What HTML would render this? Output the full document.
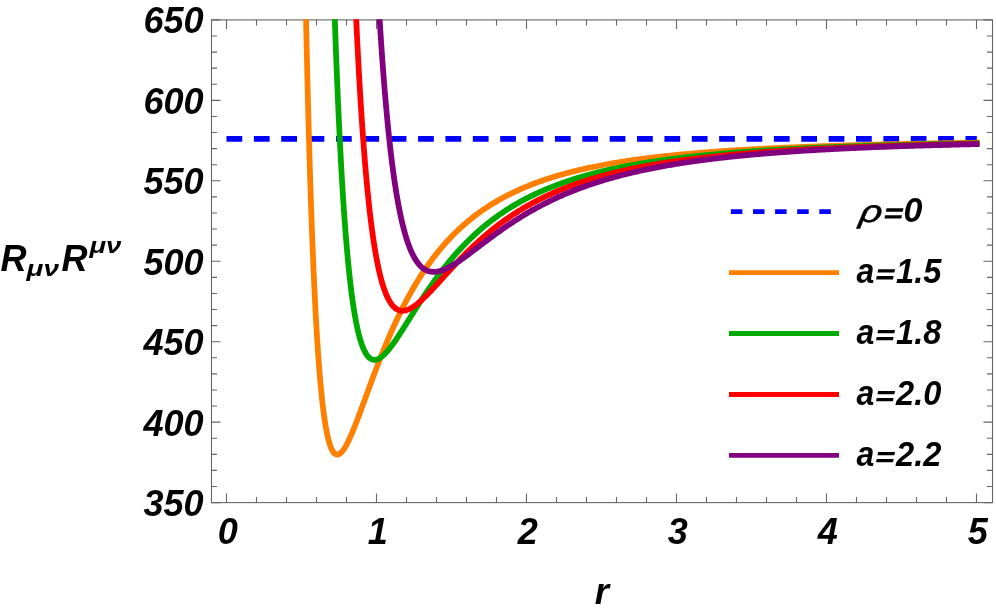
<!DOCTYPE html>
<html><head><meta charset="utf-8"><title>plot</title>
<style>html,body{margin:0;padding:0;background:#fff}svg{display:block}text{font-family:"Liberation Sans",sans-serif;font-weight:bold;font-style:italic;fill:#000}</style>
</head><body>
<svg width="996" height="613" viewBox="0 0 996 613">
<defs><clipPath id="c"><rect x="210.9" y="19.299999999999997" width="782.2" height="483.90000000000003"/></clipPath></defs>
<rect width="996" height="613" fill="#fff"/>
<rect x="211.5" y="19.9" width="781.0" height="482.70000000000005" fill="none" stroke="#666666" stroke-width="1.1"/>
<path d="M226.50 502.6v-9.0M226.50 19.9v9.0M256.50 502.6v-5.5M256.50 19.9v5.5M286.50 502.6v-5.5M286.50 19.9v5.5M316.50 502.6v-5.5M316.50 19.9v5.5M346.50 502.6v-5.5M346.50 19.9v5.5M376.50 502.6v-9.0M376.50 19.9v9.0M406.50 502.6v-5.5M406.50 19.9v5.5M436.50 502.6v-5.5M436.50 19.9v5.5M466.50 502.6v-5.5M466.50 19.9v5.5M496.50 502.6v-5.5M496.50 19.9v5.5M526.50 502.6v-9.0M526.50 19.9v9.0M556.50 502.6v-5.5M556.50 19.9v5.5M586.50 502.6v-5.5M586.50 19.9v5.5M616.50 502.6v-5.5M616.50 19.9v5.5M646.50 502.6v-5.5M646.50 19.9v5.5M676.50 502.6v-9.0M676.50 19.9v9.0M706.50 502.6v-5.5M706.50 19.9v5.5M736.50 502.6v-5.5M736.50 19.9v5.5M766.50 502.6v-5.5M766.50 19.9v5.5M796.50 502.6v-5.5M796.50 19.9v5.5M826.50 502.6v-9.0M826.50 19.9v9.0M856.50 502.6v-5.5M856.50 19.9v5.5M886.50 502.6v-5.5M886.50 19.9v5.5M916.50 502.6v-5.5M916.50 19.9v5.5M946.50 502.6v-5.5M946.50 19.9v5.5M976.50 502.6v-9.0M976.50 19.9v9.0M211.5 502.60h9.0M992.5 502.60h-9.0M211.5 486.51h5.5M992.5 486.51h-5.5M211.5 470.42h5.5M992.5 470.42h-5.5M211.5 454.33h5.5M992.5 454.33h-5.5M211.5 438.24h5.5M992.5 438.24h-5.5M211.5 422.15h9.0M992.5 422.15h-9.0M211.5 406.06h5.5M992.5 406.06h-5.5M211.5 389.97h5.5M992.5 389.97h-5.5M211.5 373.88h5.5M992.5 373.88h-5.5M211.5 357.79h5.5M992.5 357.79h-5.5M211.5 341.70h9.0M992.5 341.70h-9.0M211.5 325.61h5.5M992.5 325.61h-5.5M211.5 309.52h5.5M992.5 309.52h-5.5M211.5 293.43h5.5M992.5 293.43h-5.5M211.5 277.34h5.5M992.5 277.34h-5.5M211.5 261.25h9.0M992.5 261.25h-9.0M211.5 245.16h5.5M992.5 245.16h-5.5M211.5 229.07h5.5M992.5 229.07h-5.5M211.5 212.98h5.5M992.5 212.98h-5.5M211.5 196.89h5.5M992.5 196.89h-5.5M211.5 180.80h9.0M992.5 180.80h-9.0M211.5 164.71h5.5M992.5 164.71h-5.5M211.5 148.62h5.5M992.5 148.62h-5.5M211.5 132.53h5.5M992.5 132.53h-5.5M211.5 116.44h5.5M992.5 116.44h-5.5M211.5 100.35h9.0M992.5 100.35h-9.0M211.5 84.26h5.5M992.5 84.26h-5.5M211.5 68.17h5.5M992.5 68.17h-5.5M211.5 52.08h5.5M992.5 52.08h-5.5M211.5 35.99h5.5M992.5 35.99h-5.5M211.5 19.90h9.0M992.5 19.90h-9.0" stroke="#666666" stroke-width="1.1" fill="none"/>
<g clip-path="url(#c)">
<path d="M226.5 138.81H976.8" stroke="#0000ff" stroke-width="5.8" stroke-dasharray="15.75 11.62" fill="none" id="blue"/>
<path d="M305.79 7.15 305.86 10.72 305.94 14.28 306.01 17.80 306.09 21.30 306.16 24.78 306.24 28.23 306.31 31.66 306.39 35.06 306.46 38.44 306.54 41.80 306.61 45.13 306.69 48.44 306.76 51.72 306.84 54.99 306.91 58.23 306.99 61.44 307.06 64.64 307.14 67.81 307.21 70.96 307.29 74.09 307.36 77.19 307.44 80.27 307.51 83.34 307.59 86.38 307.66 89.40 307.74 92.39 307.81 95.37 307.89 98.32 307.96 101.26 308.04 104.17 308.11 107.07 308.19 109.94 308.26 112.79 308.34 115.62 308.41 118.44 308.49 121.23 308.56 124.00 308.64 126.75 308.71 129.49 308.79 132.20 308.86 134.90 308.94 137.57 309.01 140.23 309.09 142.87 309.16 145.49 309.24 148.09 309.31 150.67 309.39 153.23 309.46 155.78 309.54 158.31 309.61 160.82 309.69 163.31 309.76 165.78 309.84 168.24 309.91 170.68 309.99 173.10 310.06 175.50 310.14 177.89 310.21 180.26 310.29 182.61 310.36 184.95 310.44 187.27 310.52 189.57 310.59 191.86 310.67 194.13 310.74 196.38 310.82 198.62 310.89 200.84 310.97 203.04 311.04 205.23 311.12 207.41 311.19 209.57 311.27 211.71 311.34 213.84 311.42 215.95 311.49 218.04 311.57 220.13 311.64 222.19 311.72 224.24 311.79 226.28 311.87 228.30 311.94 230.31 312.02 232.30 312.09 234.28 312.17 236.24 312.24 238.19 312.32 240.13 312.39 242.05 312.47 243.96 312.54 245.85 312.62 247.73 312.69 249.60 312.77 251.45 312.84 253.29 312.92 255.11 312.99 256.92 313.07 258.72 313.14 260.51 313.22 262.28 313.29 264.04 313.37 265.79 313.44 267.52 313.52 269.24 313.59 270.95 313.67 272.65 313.74 274.33 313.82 276.00 313.89 277.66 313.97 279.30 314.04 280.94 314.12 282.56 314.19 284.17 314.27 285.77 314.34 287.35 314.42 288.93 314.49 290.49 314.57 292.04 314.64 293.58 314.72 295.11 314.79 296.62 314.87 298.13 314.94 299.62 315.02 301.10 315.09 302.57 315.17 304.03 315.24 305.48 315.32 306.92 315.39 308.35 315.47 309.77 315.54 311.17 315.62 312.57 315.69 313.95 315.77 315.33 315.84 316.69 315.92 318.04 315.99 319.39 316.07 320.72 316.14 322.04 316.22 323.35 316.29 324.66 316.37 325.95 316.44 327.23 316.52 328.50 316.59 329.77 316.67 331.02 316.74 332.27 316.82 333.50 316.89 334.72 316.97 335.94 317.04 337.14 317.12 338.34 317.19 339.53 317.27 340.71 317.34 341.87 317.42 343.03 317.49 344.18 317.57 345.33 317.64 346.46 317.72 347.58 317.79 348.70 317.87 349.80 317.94 350.90 318.02 351.99 318.09 353.07 318.17 354.14 318.24 355.21 318.32 356.26 318.39 357.31 318.47 358.34 318.54 359.37 318.62 360.40 318.69 361.41 318.77 362.41 318.84 363.41 318.92 364.40 318.99 365.38 319.07 366.35 319.14 367.32 319.22 368.28 319.29 369.23 319.37 370.17 319.44 371.10 319.52 372.03 319.59 372.95 319.67 373.86 319.74 374.77 319.82 375.66 319.89 376.55 319.97 377.44 320.04 378.31 320.12 379.18 320.19 380.04 320.27 380.89 320.34 381.74 320.42 382.58 320.49 383.41 320.57 384.23 320.64 385.05 320.72 385.86 320.79 386.67 320.87 387.47 321.02 389.04 321.17 390.59 321.32 392.11 321.47 393.61 321.62 395.08 321.77 396.53 321.92 397.95 322.07 399.34 322.22 400.72 322.37 402.06 322.52 403.39 322.67 404.69 322.82 405.96 322.97 407.22 323.12 408.45 323.27 409.66 323.42 410.85 323.57 412.01 323.72 413.16 323.87 414.28 324.02 415.38 324.17 416.46 324.32 417.53 324.47 418.57 324.62 419.59 324.77 420.59 324.92 421.57 325.07 422.53 325.22 423.48 325.37 424.40 325.52 425.31 325.67 426.20 325.82 427.07 325.97 427.92 326.12 428.76 326.27 429.58 326.42 430.38 326.65 431.55 326.87 432.68 327.10 433.78 327.32 434.84 327.55 435.87 327.77 436.86 328.00 437.82 328.22 438.74 328.45 439.63 328.67 440.49 328.90 441.32 329.12 442.12 329.42 443.13 329.72 444.10 330.02 445.01 330.32 445.88 330.62 446.69 330.92 447.46 331.30 448.36 331.67 449.18 332.05 449.94 332.50 450.77 332.95 451.50 333.47 452.25 334.00 452.88 334.60 453.47 335.27 453.98 336.02 454.36 336.85 454.56 337.68 454.55 338.50 454.34 339.25 454.00 340.00 453.53 340.68 452.98 341.28 452.42 341.88 451.78 342.40 451.16 342.93 450.50 343.45 449.78 343.98 449.02 344.43 448.33 344.88 447.61 345.33 446.87 345.78 446.09 346.23 445.29 346.68 444.46 347.05 443.75 347.43 443.02 347.80 442.28 348.18 441.52 348.55 440.75 348.93 439.97 349.30 439.17 349.68 438.36 350.06 437.53 350.43 436.70 350.81 435.85 351.18 434.99 351.56 434.12 351.93 433.24 352.31 432.35 352.68 431.45 353.06 430.55 353.43 429.63 353.81 428.71 354.11 427.97 354.41 427.22 354.71 426.47 355.01 425.71 355.31 424.95 355.61 424.18 355.91 423.41 356.21 422.64 356.51 421.86 356.81 421.09 357.11 420.30 357.41 419.52 357.71 418.73 358.01 417.94 358.31 417.15 358.61 416.35 358.91 415.55 359.21 414.75 359.51 413.95 359.81 413.14 360.11 412.34 360.41 411.53 360.71 410.72 361.01 409.91 361.31 409.10 361.61 408.28 361.91 407.47 362.21 406.65 362.51 405.84 362.81 405.02 363.11 404.20 363.41 403.38 363.71 402.56 364.01 401.74 364.31 400.92 364.61 400.10 364.91 399.28 365.21 398.46 365.51 397.64 365.81 396.82 366.11 396.00 366.41 395.18 366.71 394.36 367.01 393.54 367.31 392.72 367.61 391.90 367.91 391.08 368.21 390.26 368.51 389.44 368.81 388.62 369.11 387.81 369.41 386.99 369.71 386.18 370.01 385.36 370.31 384.55 370.61 383.74 370.91 382.92 371.21 382.11 371.51 381.31 371.81 380.50 372.11 379.69 372.41 378.88 372.71 378.08 373.01 377.28 373.31 376.48 373.61 375.68 373.91 374.88 374.21 374.08 374.51 373.28 374.81 372.49 375.11 371.70 375.41 370.90 375.72 370.11 376.02 369.33 376.32 368.54 376.62 367.76 376.92 366.97 377.22 366.19 377.52 365.41 377.82 364.63 378.12 363.86 378.42 363.09 378.72 362.31 379.02 361.54 379.32 360.77 379.62 360.01 379.92 359.24 380.22 358.48 380.52 357.72 380.82 356.96 381.12 356.21 381.42 355.45 381.72 354.70 382.02 353.95 382.32 353.20 382.62 352.46 382.92 351.71 383.22 350.97 383.59 350.05 383.97 349.13 384.34 348.21 384.72 347.29 385.09 346.38 385.47 345.48 385.84 344.57 386.22 343.67 386.59 342.78 386.97 341.88 387.34 340.99 387.72 340.11 388.09 339.23 388.47 338.35 388.85 337.47 389.22 336.60 389.60 335.73 389.97 334.87 390.35 334.01 390.72 333.15 391.10 332.29 391.47 331.44 391.85 330.60 392.22 329.75 392.60 328.91 392.97 328.08 393.35 327.25 393.72 326.42 394.10 325.59 394.47 324.77 394.85 323.96 395.22 323.14 395.60 322.33 395.97 321.52 396.35 320.72 396.72 319.92 397.10 319.13 397.47 318.33 397.85 317.55 398.22 316.76 398.60 315.98 398.97 315.20 399.35 314.43 399.72 313.66 400.10 312.89 400.47 312.13 400.85 311.37 401.22 310.61 401.60 309.86 401.98 309.11 402.35 308.36 402.73 307.62 403.10 306.88 403.48 306.15 403.85 305.42 404.23 304.69 404.60 303.96 404.98 303.24 405.35 302.52 405.73 301.81 406.10 301.10 406.48 300.39 406.93 299.55 407.38 298.71 407.83 297.87 408.28 297.04 408.73 296.22 409.18 295.40 409.63 294.58 410.08 293.77 410.53 292.97 410.98 292.17 411.43 291.37 411.88 290.58 412.33 289.79 412.78 289.01 413.23 288.23 413.68 287.46 414.13 286.69 414.58 285.93 415.03 285.17 415.48 284.41 415.93 283.66 416.38 282.92 416.83 282.18 417.28 281.44 417.73 280.71 418.18 279.98 418.63 279.26 419.08 278.54 419.53 277.82 419.98 277.11 420.43 276.40 420.88 275.70 421.33 275.00 421.78 274.31 422.23 273.62 422.68 272.93 423.13 272.25 423.58 271.58 424.03 270.90 424.48 270.23 424.93 269.57 425.46 268.80 425.98 268.03 426.51 267.27 427.03 266.52 427.56 265.77 428.09 265.02 428.61 264.28 429.14 263.55 429.66 262.82 430.19 262.10 430.71 261.38 431.24 260.67 431.76 259.96 432.29 259.26 432.81 258.56 433.34 257.86 433.86 257.18 434.39 256.49 434.91 255.81 435.44 255.14 435.96 254.47 436.49 253.81 437.01 253.15 437.54 252.49 438.06 251.84 438.59 251.19 439.11 250.55 439.64 249.91 440.16 249.28 440.69 248.65 441.22 248.03 441.74 247.41 442.27 246.79 442.79 246.18 443.32 245.58 443.92 244.89 444.52 244.21 445.12 243.53 445.72 242.86 446.32 242.19 446.92 241.53 447.52 240.87 448.12 240.22 448.72 239.58 449.32 238.94 449.92 238.30 450.52 237.67 451.12 237.04 451.72 236.42 452.32 235.81 452.92 235.20 453.52 234.59 454.12 233.99 454.72 233.39 455.32 232.80 455.92 232.22 456.52 231.63 457.12 231.05 457.72 230.48 458.32 229.91 458.92 229.35 459.52 228.79 460.12 228.23 460.72 227.68 461.32 227.13 461.92 226.59 462.52 226.05 463.12 225.52 463.72 224.99 464.40 224.39 465.07 223.81 465.75 223.23 466.42 222.65 467.78 221.51 469.06 220.45 470.33 219.41 471.61 218.38 472.89 217.37 474.17 216.38 475.45 215.40 476.73 214.44 478.00 213.50 479.28 212.57 480.56 211.65 481.84 210.75 483.12 209.86 484.39 208.99 485.67 208.13 486.95 207.28 488.23 206.45 489.51 205.63 490.79 204.82 492.06 204.03 493.34 203.25 494.62 202.48 495.90 201.72 497.18 200.97 498.45 200.24 499.73 199.51 501.01 198.80 502.29 198.10 503.57 197.40 504.85 196.72 506.12 196.05 507.40 195.39 508.68 194.74 509.96 194.10 511.24 193.46 512.52 192.84 513.79 192.23 515.07 191.62 516.35 191.03 517.63 190.44 518.91 189.86 520.18 189.29 521.46 188.73 522.74 188.18 524.02 187.63 525.30 187.09 526.58 186.56 527.85 186.04 529.13 185.52 530.41 185.01 531.69 184.51 532.97 184.02 534.24 183.53 535.52 183.05 536.80 182.58 538.08 182.11 539.36 181.65 540.64 181.20 541.91 180.75 543.19 180.31 544.47 179.87 545.75 179.45 547.03 179.02 548.30 178.60 549.58 178.19 550.86 177.78 552.14 177.38 553.42 176.99 554.70 176.60 555.97 176.21 557.25 175.83 558.53 175.46 559.81 175.09 561.09 174.72 562.36 174.36 563.64 174.01 564.92 173.65 566.20 173.31 567.48 172.97 568.76 172.63 570.03 172.30 571.31 171.97 572.59 171.64 573.87 171.32 575.15 171.01 576.42 170.69 577.70 170.39 578.98 170.08 580.26 169.78 581.54 169.48 582.82 169.19 584.09 168.90 585.37 168.62 586.65 168.33 587.93 168.05 589.21 167.78 590.48 167.51 591.76 167.24 593.04 166.97 594.32 166.71 595.60 166.45 596.88 166.20 598.15 165.95 599.43 165.70 600.71 165.45 601.99 165.21 603.27 164.97 604.55 164.73 605.82 164.49 607.10 164.26 608.38 164.03 609.66 163.81 610.94 163.58 612.21 163.36 613.49 163.14 614.77 162.93 616.05 162.71 617.33 162.50 618.61 162.29 619.88 162.09 621.16 161.88 622.44 161.68 623.72 161.48 625.00 161.29 626.27 161.09 627.55 160.90 628.83 160.71 630.11 160.52 631.39 160.34 632.67 160.15 633.94 159.97 635.22 159.79 636.50 159.61 637.78 159.44 639.06 159.27 640.33 159.09 641.61 158.92 642.89 158.76 644.17 158.59 645.45 158.43 646.73 158.26 648.00 158.10 649.28 157.94 650.56 157.79 651.84 157.63 653.12 157.48 654.39 157.33 655.67 157.17 656.95 157.03 658.23 156.88 659.51 156.73 660.79 156.59 662.06 156.45 663.34 156.31 664.62 156.17 665.90 156.03 667.18 155.89 668.45 155.76 669.73 155.62 671.01 155.49 672.29 155.36 673.57 155.23 674.85 155.10 676.12 154.97 677.40 154.85 678.68 154.72 679.96 154.60 681.24 154.48 682.52 154.36 683.79 154.24 685.07 154.12 686.35 154.00 687.63 153.89 688.91 153.77 690.18 153.66 691.46 153.55 692.74 153.44 694.02 153.33 695.30 153.22 696.58 153.11 697.85 153.00 699.13 152.90 700.41 152.79 701.69 152.69 702.97 152.59 704.24 152.49 705.52 152.39 706.80 152.29 708.08 152.19 709.36 152.09 710.64 151.99 711.91 151.90 713.19 151.80 714.47 151.71 715.75 151.62 717.03 151.52 718.30 151.43 719.58 151.34 720.86 151.25 722.14 151.16 723.42 151.08 724.70 150.99 725.97 150.90 727.25 150.82 728.53 150.73 729.81 150.65 731.09 150.57 732.36 150.48 733.64 150.40 734.92 150.32 736.20 150.24 737.48 150.16 738.76 150.09 740.03 150.01 741.31 149.93 742.59 149.85 743.87 149.78 745.15 149.70 746.42 149.63 747.70 149.56 748.98 149.48 750.26 149.41 751.54 149.34 752.82 149.27 754.09 149.20 755.37 149.13 756.65 149.06 757.93 148.99 759.21 148.92 760.48 148.86 761.76 148.79 763.04 148.72 764.32 148.66 765.60 148.59 766.88 148.53 768.15 148.47 769.43 148.40 770.71 148.34 771.99 148.28 773.27 148.22 774.55 148.16 775.82 148.10 777.10 148.04 778.38 147.98 779.66 147.92 780.94 147.86 782.21 147.80 783.49 147.74 784.77 147.69 786.05 147.63 787.33 147.57 788.61 147.52 789.88 147.46 791.16 147.41 792.44 147.36 793.72 147.30 795.00 147.25 796.27 147.20 797.55 147.14 798.83 147.09 800.11 147.04 801.39 146.99 802.67 146.94 803.94 146.89 805.22 146.84 806.50 146.79 807.78 146.74 809.06 146.69 810.33 146.65 811.61 146.60 812.89 146.55 814.17 146.50 815.45 146.46 816.73 146.41 818.00 146.37 819.28 146.32 820.56 146.28 821.84 146.23 823.12 146.19 824.39 146.14 825.67 146.10 826.95 146.06 828.23 146.01 829.51 145.97 830.79 145.93 832.06 145.89 833.34 145.84 834.62 145.80 835.90 145.76 837.18 145.72 838.45 145.68 839.73 145.64 841.01 145.60 842.29 145.56 843.57 145.52 844.85 145.49 846.12 145.45 847.40 145.41 848.68 145.37 849.96 145.33 851.24 145.30 852.52 145.26 853.79 145.22 855.07 145.19 856.35 145.15 857.63 145.12 858.91 145.08 860.18 145.04 861.46 145.01 862.74 144.97 864.02 144.94 865.30 144.91 866.58 144.87 867.85 144.84 869.13 144.81 870.41 144.77 871.69 144.74 872.97 144.71 874.24 144.67 875.52 144.64 876.80 144.61 878.08 144.58 879.36 144.55 880.64 144.52 881.91 144.48 883.19 144.45 884.47 144.42 885.75 144.39 887.03 144.36 888.30 144.33 889.58 144.30 890.86 144.27 892.14 144.24 893.42 144.22 894.70 144.19 895.97 144.16 897.25 144.13 898.53 144.10 899.81 144.07 901.09 144.05 902.36 144.02 903.64 143.99 904.92 143.96 906.20 143.94 907.48 143.91 908.76 143.88 910.03 143.86 911.31 143.83 912.59 143.80 913.87 143.78 915.15 143.75 916.42 143.73 917.70 143.70 918.98 143.68 920.26 143.65 921.54 143.63 922.82 143.60 924.09 143.58 925.37 143.55 926.65 143.53 927.93 143.51 929.21 143.48 930.48 143.46 931.76 143.44 933.04 143.41 934.32 143.39 935.60 143.37 936.88 143.34 938.15 143.32 939.43 143.30 940.71 143.28 941.99 143.25 943.27 143.23 944.55 143.21 945.82 143.19 947.10 143.17 948.38 143.14 949.66 143.12 950.94 143.10 952.21 143.08 953.49 143.06 954.77 143.04 956.05 143.02 957.33 143.00 958.61 142.98 959.88 142.96 961.16 142.94 962.44 142.92 963.72 142.90 965.00 142.88 966.27 142.86 967.55 142.84 968.83 142.82 970.11 142.80 971.39 142.78 972.67 142.76 973.94 142.75 975.22 142.73 976.50 142.71 976.50 142.71" stroke="#ff7f00" stroke-width="5.75" fill="none" stroke-linejoin="round" stroke-linecap="square"/>
<path d="M334.37 6.57 334.45 8.81 334.52 11.03 334.60 13.24 334.67 15.44 334.75 17.63 334.82 19.80 334.90 21.96 334.97 24.11 335.05 26.25 335.12 28.38 335.20 30.49 335.27 32.59 335.35 34.68 335.42 36.76 335.50 38.83 335.57 40.88 335.65 42.93 335.72 44.96 335.80 46.98 335.87 48.99 335.95 50.99 336.02 52.98 336.10 54.96 336.17 56.92 336.25 58.88 336.32 60.82 336.40 62.75 336.47 64.68 336.55 66.59 336.63 68.49 336.70 70.38 336.78 72.26 336.85 74.13 336.93 75.99 337.00 77.83 337.08 79.67 337.15 81.50 337.23 83.32 337.30 85.12 337.38 86.92 337.45 88.71 337.53 90.48 337.60 92.25 337.68 94.01 337.75 95.75 337.83 97.49 337.90 99.22 337.98 100.94 338.05 102.65 338.13 104.34 338.20 106.03 338.28 107.71 338.35 109.38 338.43 111.04 338.50 112.69 338.58 114.34 338.65 115.97 338.73 117.59 338.80 119.21 338.88 120.81 338.95 122.41 339.03 124.00 339.10 125.57 339.18 127.14 339.25 128.70 339.33 130.26 339.40 131.80 339.48 133.33 339.55 134.86 339.63 136.37 339.70 137.88 339.78 139.38 339.85 140.87 339.93 142.36 340.00 143.83 340.08 145.30 340.15 146.75 340.23 148.20 340.30 149.64 340.38 151.08 340.45 152.50 340.53 153.92 340.60 155.33 340.68 156.73 340.75 158.12 340.83 159.50 340.90 160.88 340.98 162.25 341.05 163.61 341.13 164.96 341.20 166.31 341.28 167.65 341.35 168.98 341.43 170.30 341.50 171.62 341.58 172.92 341.65 174.22 341.73 175.51 341.80 176.80 341.88 178.08 341.95 179.35 342.03 180.61 342.10 181.87 342.18 183.12 342.25 184.36 342.33 185.59 342.40 186.82 342.48 188.04 342.55 189.25 342.63 190.46 342.70 191.66 342.78 192.85 342.85 194.03 342.93 195.21 343.00 196.38 343.08 197.55 343.15 198.71 343.23 199.86 343.30 201.00 343.38 202.14 343.45 203.27 343.53 204.40 343.60 205.51 343.68 206.63 343.75 207.73 343.83 208.83 343.90 209.92 343.98 211.01 344.05 212.09 344.13 213.16 344.20 214.23 344.28 215.29 344.35 216.34 344.43 217.39 344.50 218.44 344.58 219.47 344.65 220.50 344.73 221.53 344.80 222.54 344.88 223.56 344.95 224.56 345.03 225.56 345.10 226.56 345.18 227.55 345.25 228.53 345.33 229.50 345.40 230.48 345.48 231.44 345.55 232.40 345.63 233.35 345.70 234.30 345.78 235.25 345.85 236.18 345.93 237.11 346.00 238.04 346.08 238.96 346.15 239.88 346.23 240.78 346.30 241.69 346.38 242.59 346.45 243.48 346.53 244.37 346.60 245.25 346.68 246.13 346.75 247.00 346.83 247.87 346.90 248.73 346.98 249.58 347.05 250.44 347.13 251.28 347.20 252.12 347.28 252.96 347.35 253.79 347.43 254.62 347.50 255.44 347.58 256.25 347.65 257.06 347.73 257.87 347.80 258.67 347.95 260.26 348.10 261.83 348.25 263.38 348.40 264.91 348.55 266.42 348.70 267.91 348.85 269.39 349.00 270.84 349.15 272.28 349.30 273.70 349.45 275.11 349.61 276.49 349.76 277.86 349.91 279.21 350.06 280.55 350.21 281.87 350.36 283.17 350.51 284.45 350.66 285.72 350.81 286.97 350.96 288.21 351.11 289.43 351.26 290.64 351.41 291.83 351.56 293.00 351.71 294.16 351.86 295.31 352.01 296.44 352.16 297.56 352.31 298.66 352.46 299.74 352.61 300.82 352.76 301.88 352.91 302.92 353.06 303.95 353.21 304.97 353.36 305.97 353.51 306.96 353.66 307.94 353.81 308.91 353.96 309.86 354.11 310.80 354.26 311.72 354.41 312.63 354.56 313.54 354.71 314.42 354.86 315.30 355.01 316.16 355.16 317.02 355.31 317.86 355.46 318.69 355.61 319.50 355.76 320.31 355.91 321.10 356.13 322.27 356.36 323.42 356.58 324.54 356.81 325.64 357.03 326.71 357.26 327.76 357.48 328.79 357.71 329.79 357.93 330.78 358.16 331.73 358.38 332.67 358.61 333.59 358.83 334.49 359.06 335.36 359.28 336.21 359.51 337.05 359.73 337.86 359.96 338.66 360.18 339.43 360.48 340.44 360.78 341.41 361.08 342.35 361.38 343.26 361.68 344.14 361.98 344.98 362.28 345.80 362.59 346.59 362.89 347.35 363.26 348.26 363.64 349.12 364.01 349.95 364.39 350.73 364.76 351.48 365.14 352.19 365.59 352.99 366.04 353.73 366.49 354.43 367.01 355.18 367.54 355.86 368.06 356.48 368.66 357.12 369.26 357.68 369.94 358.23 370.61 358.69 371.36 359.10 372.11 359.41 372.94 359.65 373.76 359.78 374.59 359.82 375.41 359.75 376.24 359.60 377.07 359.37 377.82 359.09 378.57 358.75 379.32 358.35 380.07 357.89 380.74 357.44 381.42 356.94 382.09 356.41 382.77 355.84 383.37 355.31 383.97 354.75 384.57 354.16 385.17 353.55 385.77 352.92 386.37 352.27 386.97 351.60 387.49 350.99 388.02 350.37 388.55 349.74 389.07 349.10 389.60 348.44 390.12 347.77 390.65 347.09 391.17 346.40 391.70 345.70 392.22 344.99 392.75 344.27 393.27 343.54 393.80 342.81 394.32 342.06 394.85 341.31 395.37 340.55 395.90 339.79 396.42 339.01 396.87 338.35 397.32 337.68 397.77 337.00 398.22 336.33 398.67 335.64 399.12 334.96 399.57 334.27 400.02 333.58 400.47 332.89 400.92 332.19 401.37 331.49 401.83 330.79 402.28 330.09 402.73 329.39 403.18 328.68 403.63 327.97 404.08 327.26 404.53 326.55 404.98 325.84 405.43 325.13 405.88 324.41 406.33 323.70 406.78 322.98 407.23 322.27 407.68 321.55 408.13 320.83 408.58 320.12 409.03 319.40 409.48 318.68 409.93 317.97 410.38 317.25 410.83 316.53 411.28 315.82 411.73 315.10 412.18 314.39 412.63 313.67 413.08 312.96 413.53 312.25 413.98 311.53 414.43 310.82 414.88 310.11 415.33 309.40 415.78 308.69 416.23 307.99 416.68 307.28 417.13 306.58 417.58 305.87 418.03 305.17 418.48 304.47 418.93 303.77 419.38 303.07 419.83 302.38 420.28 301.68 420.73 300.99 421.18 300.30 421.63 299.61 422.08 298.92 422.53 298.23 422.98 297.55 423.43 296.87 423.88 296.19 424.33 295.51 424.78 294.83 425.23 294.16 425.68 293.49 426.13 292.82 426.58 292.15 427.03 291.48 427.48 290.82 427.94 290.16 428.46 289.39 428.99 288.62 429.51 287.86 430.04 287.10 430.56 286.34 431.09 285.59 431.61 284.84 432.14 284.09 432.66 283.35 433.19 282.61 433.71 281.87 434.24 281.14 434.76 280.41 435.29 279.68 435.81 278.95 436.34 278.23 436.86 277.52 437.39 276.80 437.91 276.09 438.44 275.38 438.96 274.68 439.49 273.98 440.01 273.28 440.54 272.59 441.07 271.90 441.59 271.21 442.12 270.53 442.64 269.85 443.17 269.17 443.69 268.50 444.22 267.83 444.74 267.16 445.27 266.50 445.79 265.84 446.32 265.18 446.84 264.53 447.37 263.88 447.89 263.23 448.42 262.59 448.94 261.95 449.47 261.31 449.99 260.68 450.52 260.05 451.04 259.43 451.57 258.81 452.09 258.19 452.62 257.57 453.14 256.96 453.67 256.35 454.20 255.74 454.80 255.06 455.40 254.37 456.00 253.69 456.60 253.02 457.20 252.35 457.80 251.68 458.40 251.02 459.00 250.36 459.60 249.71 460.20 249.06 460.80 248.41 461.40 247.77 462.00 247.14 462.60 246.50 463.20 245.87 463.80 245.25 464.40 244.63 465.00 244.01 465.60 243.40 466.20 242.79 467.78 241.21 469.06 239.95 470.33 238.71 471.61 237.48 472.89 236.28 474.17 235.08 475.45 233.91 476.73 232.75 478.00 231.61 479.28 230.49 480.56 229.38 481.84 228.28 483.12 227.21 484.39 226.14 485.67 225.10 486.95 224.06 488.23 223.05 489.51 222.04 490.79 221.05 492.06 220.08 493.34 219.12 494.62 218.17 495.90 217.24 497.18 216.32 498.45 215.41 499.73 214.51 501.01 213.63 502.29 212.76 503.57 211.90 504.85 211.06 506.12 210.23 507.40 209.40 508.68 208.59 509.96 207.80 511.24 207.01 512.52 206.23 513.79 205.47 515.07 204.71 516.35 203.97 517.63 203.23 518.91 202.51 520.18 201.80 521.46 201.09 522.74 200.40 524.02 199.72 525.30 199.04 526.58 198.38 527.85 197.72 529.13 197.07 530.41 196.43 531.69 195.80 532.97 195.18 534.24 194.57 535.52 193.97 536.80 193.37 538.08 192.78 539.36 192.20 540.64 191.63 541.91 191.07 543.19 190.51 544.47 189.96 545.75 189.42 547.03 188.88 548.30 188.36 549.58 187.83 550.86 187.32 552.14 186.81 553.42 186.31 554.70 185.82 555.97 185.33 557.25 184.85 558.53 184.38 559.81 183.91 561.09 183.45 562.36 182.99 563.64 182.54 564.92 182.10 566.20 181.66 567.48 181.22 568.76 180.80 570.03 180.38 571.31 179.96 572.59 179.55 573.87 179.14 575.15 178.74 576.42 178.35 577.70 177.95 578.98 177.57 580.26 177.19 581.54 176.81 582.82 176.44 584.09 176.07 585.37 175.71 586.65 175.35 587.93 175.00 589.21 174.65 590.48 174.31 591.76 173.97 593.04 173.63 594.32 173.30 595.60 172.97 596.88 172.65 598.15 172.33 599.43 172.01 600.71 171.70 601.99 171.39 603.27 171.08 604.55 170.78 605.82 170.49 607.10 170.19 608.38 169.90 609.66 169.61 610.94 169.33 612.21 169.05 613.49 168.77 614.77 168.50 616.05 168.23 617.33 167.96 618.61 167.70 619.88 167.44 621.16 167.18 622.44 166.93 623.72 166.67 625.00 166.42 626.27 166.18 627.55 165.93 628.83 165.69 630.11 165.46 631.39 165.22 632.67 164.99 633.94 164.76 635.22 164.53 636.50 164.31 637.78 164.09 639.06 163.87 640.33 163.65 641.61 163.43 642.89 163.22 644.17 163.01 645.45 162.81 646.73 162.60 648.00 162.40 649.28 162.20 650.56 162.00 651.84 161.80 653.12 161.61 654.39 161.42 655.67 161.23 656.95 161.04 658.23 160.85 659.51 160.67 660.79 160.49 662.06 160.31 663.34 160.13 664.62 159.95 665.90 159.78 667.18 159.61 668.45 159.44 669.73 159.27 671.01 159.10 672.29 158.94 673.57 158.77 674.85 158.61 676.12 158.45 677.40 158.29 678.68 158.14 679.96 157.98 681.24 157.83 682.52 157.68 683.79 157.53 685.07 157.38 686.35 157.23 687.63 157.09 688.91 156.94 690.18 156.80 691.46 156.66 692.74 156.52 694.02 156.38 695.30 156.25 696.58 156.11 697.85 155.98 699.13 155.85 700.41 155.71 701.69 155.58 702.97 155.46 704.24 155.33 705.52 155.20 706.80 155.08 708.08 154.95 709.36 154.83 710.64 154.71 711.91 154.59 713.19 154.47 714.47 154.35 715.75 154.24 717.03 154.12 718.30 154.01 719.58 153.90 720.86 153.78 722.14 153.67 723.42 153.56 724.70 153.45 725.97 153.35 727.25 153.24 728.53 153.14 729.81 153.03 731.09 152.93 732.36 152.82 733.64 152.72 734.92 152.62 736.20 152.52 737.48 152.42 738.76 152.33 740.03 152.23 741.31 152.13 742.59 152.04 743.87 151.94 745.15 151.85 746.42 151.76 747.70 151.67 748.98 151.58 750.26 151.49 751.54 151.40 752.82 151.31 754.09 151.22 755.37 151.14 756.65 151.05 757.93 150.97 759.21 150.88 760.48 150.80 761.76 150.72 763.04 150.63 764.32 150.55 765.60 150.47 766.88 150.39 768.15 150.31 769.43 150.23 770.71 150.16 771.99 150.08 773.27 150.00 774.55 149.93 775.82 149.85 777.10 149.78 778.38 149.71 779.66 149.63 780.94 149.56 782.21 149.49 783.49 149.42 784.77 149.35 786.05 149.28 787.33 149.21 788.61 149.14 789.88 149.07 791.16 149.01 792.44 148.94 793.72 148.87 795.00 148.81 796.27 148.74 797.55 148.68 798.83 148.61 800.11 148.55 801.39 148.49 802.67 148.43 803.94 148.36 805.22 148.30 806.50 148.24 807.78 148.18 809.06 148.12 810.33 148.06 811.61 148.00 812.89 147.95 814.17 147.89 815.45 147.83 816.73 147.77 818.00 147.72 819.28 147.66 820.56 147.61 821.84 147.55 823.12 147.50 824.39 147.44 825.67 147.39 826.95 147.34 828.23 147.28 829.51 147.23 830.79 147.18 832.06 147.13 833.34 147.08 834.62 147.03 835.90 146.98 837.18 146.93 838.45 146.88 839.73 146.83 841.01 146.78 842.29 146.73 843.57 146.69 844.85 146.64 846.12 146.59 847.40 146.54 848.68 146.50 849.96 146.45 851.24 146.41 852.52 146.36 853.79 146.32 855.07 146.27 856.35 146.23 857.63 146.18 858.91 146.14 860.18 146.10 861.46 146.06 862.74 146.01 864.02 145.97 865.30 145.93 866.58 145.89 867.85 145.85 869.13 145.81 870.41 145.77 871.69 145.73 872.97 145.69 874.24 145.65 875.52 145.61 876.80 145.57 878.08 145.53 879.36 145.49 880.64 145.45 881.91 145.42 883.19 145.38 884.47 145.34 885.75 145.30 887.03 145.27 888.30 145.23 889.58 145.20 890.86 145.16 892.14 145.12 893.42 145.09 894.70 145.05 895.97 145.02 897.25 144.98 898.53 144.95 899.81 144.92 901.09 144.88 902.36 144.85 903.64 144.82 904.92 144.78 906.20 144.75 907.48 144.72 908.76 144.69 910.03 144.65 911.31 144.62 912.59 144.59 913.87 144.56 915.15 144.53 916.42 144.50 917.70 144.47 918.98 144.44 920.26 144.41 921.54 144.38 922.82 144.35 924.09 144.32 925.37 144.29 926.65 144.26 927.93 144.23 929.21 144.20 930.48 144.17 931.76 144.14 933.04 144.12 934.32 144.09 935.60 144.06 936.88 144.03 938.15 144.01 939.43 143.98 940.71 143.95 941.99 143.92 943.27 143.90 944.55 143.87 945.82 143.85 947.10 143.82 948.38 143.79 949.66 143.77 950.94 143.74 952.21 143.72 953.49 143.69 954.77 143.67 956.05 143.64 957.33 143.62 958.61 143.59 959.88 143.57 961.16 143.55 962.44 143.52 963.72 143.50 965.00 143.47 966.27 143.45 967.55 143.43 968.83 143.40 970.11 143.38 971.39 143.36 972.67 143.34 973.94 143.31 975.22 143.29 976.50 143.27 976.50 143.27" stroke="#00aa00" stroke-width="5.75" fill="none" stroke-linejoin="round" stroke-linecap="square"/>
<path d="M355.61 6.11 355.68 7.78 355.76 9.43 355.83 11.08 355.91 12.72 355.98 14.36 356.06 15.98 356.13 17.60 356.21 19.21 356.28 20.81 356.36 22.41 356.43 23.99 356.51 25.57 356.58 27.15 356.66 28.71 356.73 30.27 356.81 31.81 356.88 33.36 356.96 34.89 357.03 36.42 357.11 37.93 357.18 39.45 357.26 40.95 357.33 42.45 357.41 43.94 357.48 45.42 357.56 46.90 357.63 48.36 357.71 49.82 357.78 51.28 357.86 52.73 357.93 54.17 358.01 55.60 358.08 57.02 358.16 58.44 358.23 59.86 358.31 61.26 358.38 62.66 358.46 64.05 358.53 65.44 358.61 66.82 358.68 68.19 358.76 69.55 358.83 70.91 358.91 72.26 358.98 73.61 359.06 74.95 359.13 76.28 359.21 77.60 359.28 78.92 359.36 80.23 359.43 81.54 359.51 82.84 359.58 84.13 359.66 85.42 359.73 86.70 359.81 87.98 359.88 89.25 359.96 90.51 360.03 91.76 360.11 93.02 360.18 94.26 360.26 95.50 360.33 96.73 360.41 97.95 360.48 99.17 360.56 100.39 360.63 101.60 360.71 102.80 360.78 103.99 360.86 105.18 360.93 106.37 361.01 107.55 361.08 108.72 361.16 109.89 361.23 111.05 361.31 112.21 361.38 113.36 361.46 114.50 361.53 115.64 361.61 116.77 361.68 117.90 361.76 119.02 361.83 120.14 361.91 121.25 361.98 122.36 362.06 123.46 362.13 124.55 362.21 125.64 362.28 126.72 362.36 127.80 362.43 128.88 362.51 129.94 362.59 131.01 362.66 132.06 362.74 133.12 362.81 134.16 362.89 135.21 362.96 136.24 363.04 137.27 363.11 138.30 363.19 139.32 363.26 140.34 363.34 141.35 363.41 142.36 363.49 143.36 363.56 144.36 363.64 145.35 363.71 146.33 363.79 147.32 363.86 148.29 363.94 149.26 364.01 150.23 364.09 151.19 364.16 152.15 364.24 153.10 364.31 154.05 364.39 155.00 364.46 155.94 364.54 156.87 364.61 157.80 364.69 158.72 364.76 159.64 364.84 160.56 364.91 161.47 364.99 162.38 365.06 163.28 365.14 164.18 365.21 165.07 365.29 165.96 365.36 166.84 365.44 167.72 365.51 168.60 365.59 169.47 365.66 170.33 365.74 171.20 365.81 172.05 365.89 172.91 365.96 173.76 366.04 174.60 366.11 175.44 366.19 176.28 366.26 177.11 366.34 177.94 366.41 178.76 366.49 179.58 366.56 180.40 366.64 181.21 366.71 182.02 366.79 182.82 366.86 183.62 367.01 185.20 367.16 186.77 367.31 188.33 367.46 189.87 367.61 191.39 367.76 192.90 367.91 194.39 368.06 195.87 368.21 197.33 368.36 198.78 368.51 200.21 368.66 201.63 368.81 203.03 368.96 204.42 369.11 205.79 369.26 207.15 369.41 208.50 369.56 209.83 369.71 211.15 369.86 212.45 370.01 213.75 370.16 215.02 370.31 216.29 370.46 217.54 370.61 218.78 370.76 220.01 370.91 221.22 371.06 222.42 371.21 223.61 371.36 224.78 371.51 225.94 371.66 227.10 371.81 228.23 371.96 229.36 372.11 230.48 372.26 231.58 372.41 232.67 372.56 233.75 372.71 234.82 372.86 235.87 373.01 236.92 373.16 237.95 373.31 238.98 373.46 239.99 373.61 240.99 373.76 241.98 373.91 242.96 374.06 243.93 374.21 244.89 374.36 245.84 374.51 246.77 374.66 247.70 374.81 248.62 374.96 249.53 375.11 250.42 375.26 251.31 375.41 252.19 375.57 253.06 375.72 253.92 375.87 254.76 376.02 255.60 376.17 256.43 376.32 257.25 376.47 258.07 376.62 258.87 376.77 259.66 376.99 260.84 377.22 261.99 377.44 263.12 377.67 264.24 377.89 265.33 378.12 266.41 378.34 267.47 378.57 268.51 378.79 269.53 379.02 270.53 379.24 271.52 379.47 272.49 379.69 273.44 379.92 274.37 380.14 275.29 380.37 276.19 380.59 277.08 380.82 277.95 381.04 278.80 381.27 279.64 381.49 280.46 381.72 281.26 381.94 282.06 382.17 282.83 382.47 283.84 382.77 284.83 383.07 285.79 383.37 286.73 383.67 287.64 383.97 288.53 384.27 289.40 384.57 290.24 384.87 291.06 385.17 291.86 385.47 292.64 385.77 293.39 386.14 294.30 386.52 295.19 386.89 296.04 387.27 296.86 387.64 297.65 388.02 298.41 388.39 299.14 388.85 299.98 389.30 300.78 389.75 301.54 390.20 302.26 390.65 302.95 391.17 303.71 391.70 304.42 392.22 305.09 392.75 305.71 393.35 306.37 393.95 306.97 394.55 307.53 395.22 308.09 395.90 308.59 396.57 309.03 397.32 309.46 398.07 309.82 398.82 310.12 399.65 310.38 400.47 310.57 401.30 310.69 402.13 310.75 402.95 310.75 403.78 310.70 404.60 310.59 405.43 310.43 406.25 310.22 407.08 309.97 407.90 309.67 408.65 309.37 409.40 309.03 410.15 308.66 410.90 308.27 411.65 307.84 412.40 307.39 413.15 306.91 413.83 306.46 414.51 305.99 415.18 305.51 415.86 305.00 416.53 304.49 417.21 303.95 417.88 303.40 418.56 302.84 419.23 302.27 419.91 301.68 420.51 301.15 421.11 300.61 421.71 300.06 422.31 299.50 422.91 298.94 423.51 298.37 424.11 297.79 424.71 297.20 425.31 296.61 425.91 296.02 426.51 295.41 427.11 294.81 427.71 294.19 428.31 293.58 428.91 292.95 429.51 292.33 430.11 291.70 430.71 291.07 431.31 290.43 431.91 289.79 432.51 289.15 433.11 288.51 433.71 287.86 434.31 287.21 434.91 286.56 435.51 285.90 436.11 285.25 436.71 284.59 437.31 283.94 437.91 283.28 438.51 282.62 439.11 281.96 439.71 281.30 440.31 280.64 440.92 279.97 441.52 279.31 442.12 278.65 442.72 277.99 443.32 277.33 443.92 276.67 444.52 276.00 445.12 275.34 445.72 274.68 446.32 274.02 446.92 273.37 447.52 272.71 448.12 272.05 448.72 271.40 449.32 270.74 449.92 270.09 450.52 269.44 451.12 268.79 451.72 268.14 452.32 267.49 452.92 266.84 453.52 266.20 454.12 265.56 454.72 264.92 455.32 264.28 455.92 263.64 456.52 263.01 457.12 262.37 457.72 261.74 458.32 261.11 458.92 260.49 459.52 259.86 460.12 259.24 460.72 258.62 461.32 258.00 461.92 257.39 462.52 256.77 463.12 256.16 463.72 255.55 464.32 254.95 464.92 254.34 465.52 253.74 466.12 253.15 467.78 251.51 469.06 250.26 470.33 249.02 471.61 247.79 472.89 246.58 474.17 245.37 475.45 244.18 476.73 243.00 478.00 241.84 479.28 240.69 480.56 239.54 481.84 238.42 483.12 237.30 484.39 236.20 485.67 235.11 486.95 234.03 488.23 232.96 489.51 231.91 490.79 230.86 492.06 229.84 493.34 228.82 494.62 227.81 495.90 226.82 497.18 225.84 498.45 224.87 499.73 223.91 501.01 222.97 502.29 222.03 503.57 221.11 504.85 220.20 506.12 219.30 507.40 218.41 508.68 217.53 509.96 216.66 511.24 215.81 512.52 214.96 513.79 214.13 515.07 213.30 516.35 212.49 517.63 211.69 518.91 210.89 520.18 210.11 521.46 209.34 522.74 208.57 524.02 207.82 525.30 207.07 526.58 206.34 527.85 205.61 529.13 204.90 530.41 204.19 531.69 203.49 532.97 202.80 534.24 202.12 535.52 201.45 536.80 200.78 538.08 200.13 539.36 199.48 540.64 198.84 541.91 198.21 543.19 197.59 544.47 196.97 545.75 196.37 547.03 195.77 548.30 195.18 549.58 194.59 550.86 194.01 552.14 193.45 553.42 192.88 554.70 192.33 555.97 191.78 557.25 191.24 558.53 190.70 559.81 190.17 561.09 189.65 562.36 189.14 563.64 188.63 564.92 188.13 566.20 187.63 567.48 187.14 568.76 186.66 570.03 186.18 571.31 185.71 572.59 185.24 573.87 184.78 575.15 184.33 576.42 183.88 577.70 183.44 578.98 183.00 580.26 182.56 581.54 182.14 582.82 181.72 584.09 181.30 585.37 180.89 586.65 180.48 587.93 180.08 589.21 179.68 590.48 179.29 591.76 178.90 593.04 178.52 594.32 178.14 595.60 177.76 596.88 177.40 598.15 177.03 599.43 176.67 600.71 176.31 601.99 175.96 603.27 175.61 604.55 175.27 605.82 174.93 607.10 174.59 608.38 174.26 609.66 173.93 610.94 173.61 612.21 173.29 613.49 172.97 614.77 172.66 616.05 172.35 617.33 172.05 618.61 171.74 619.88 171.45 621.16 171.15 622.44 170.86 623.72 170.57 625.00 170.28 626.27 170.00 627.55 169.72 628.83 169.45 630.11 169.18 631.39 168.91 632.67 168.64 633.94 168.38 635.22 168.12 636.50 167.86 637.78 167.61 639.06 167.35 640.33 167.10 641.61 166.86 642.89 166.62 644.17 166.38 645.45 166.14 646.73 165.90 648.00 165.67 649.28 165.44 650.56 165.21 651.84 164.99 653.12 164.76 654.39 164.54 655.67 164.33 656.95 164.11 658.23 163.90 659.51 163.69 660.79 163.48 662.06 163.27 663.34 163.07 664.62 162.87 665.90 162.67 667.18 162.47 668.45 162.27 669.73 162.08 671.01 161.89 672.29 161.70 673.57 161.51 674.85 161.33 676.12 161.14 677.40 160.96 678.68 160.78 679.96 160.60 681.24 160.43 682.52 160.25 683.79 160.08 685.07 159.91 686.35 159.74 687.63 159.58 688.91 159.41 690.18 159.25 691.46 159.09 692.74 158.93 694.02 158.77 695.30 158.61 696.58 158.46 697.85 158.30 699.13 158.15 700.41 158.00 701.69 157.85 702.97 157.70 704.24 157.56 705.52 157.41 706.80 157.27 708.08 157.13 709.36 156.99 710.64 156.85 711.91 156.71 713.19 156.57 714.47 156.44 715.75 156.31 717.03 156.17 718.30 156.04 719.58 155.91 720.86 155.78 722.14 155.66 723.42 155.53 724.70 155.41 725.97 155.28 727.25 155.16 728.53 155.04 729.81 154.92 731.09 154.80 732.36 154.68 733.64 154.57 734.92 154.45 736.20 154.34 737.48 154.22 738.76 154.11 740.03 154.00 741.31 153.89 742.59 153.78 743.87 153.67 745.15 153.57 746.42 153.46 747.70 153.36 748.98 153.25 750.26 153.15 751.54 153.05 752.82 152.95 754.09 152.85 755.37 152.75 756.65 152.65 757.93 152.55 759.21 152.46 760.48 152.36 761.76 152.26 763.04 152.17 764.32 152.08 765.60 151.99 766.88 151.89 768.15 151.80 769.43 151.71 770.71 151.63 771.99 151.54 773.27 151.45 774.55 151.36 775.82 151.28 777.10 151.19 778.38 151.11 779.66 151.03 780.94 150.94 782.21 150.86 783.49 150.78 784.77 150.70 786.05 150.62 787.33 150.54 788.61 150.46 789.88 150.38 791.16 150.31 792.44 150.23 793.72 150.16 795.00 150.08 796.27 150.01 797.55 149.93 798.83 149.86 800.11 149.79 801.39 149.72 802.67 149.64 803.94 149.57 805.22 149.50 806.50 149.43 807.78 149.37 809.06 149.30 810.33 149.23 811.61 149.16 812.89 149.10 814.17 149.03 815.45 148.96 816.73 148.90 818.00 148.84 819.28 148.77 820.56 148.71 821.84 148.65 823.12 148.58 824.39 148.52 825.67 148.46 826.95 148.40 828.23 148.34 829.51 148.28 830.79 148.22 832.06 148.16 833.34 148.10 834.62 148.05 835.90 147.99 837.18 147.93 838.45 147.88 839.73 147.82 841.01 147.77 842.29 147.71 843.57 147.66 844.85 147.60 846.12 147.55 847.40 147.50 848.68 147.44 849.96 147.39 851.24 147.34 852.52 147.29 853.79 147.24 855.07 147.19 856.35 147.14 857.63 147.09 858.91 147.04 860.18 146.99 861.46 146.94 862.74 146.89 864.02 146.84 865.30 146.79 866.58 146.75 867.85 146.70 869.13 146.65 870.41 146.61 871.69 146.56 872.97 146.52 874.24 146.47 875.52 146.43 876.80 146.38 878.08 146.34 879.36 146.30 880.64 146.25 881.91 146.21 883.19 146.17 884.47 146.12 885.75 146.08 887.03 146.04 888.30 146.00 889.58 145.96 890.86 145.92 892.14 145.88 893.42 145.84 894.70 145.80 895.97 145.76 897.25 145.72 898.53 145.68 899.81 145.64 901.09 145.60 902.36 145.57 903.64 145.53 904.92 145.49 906.20 145.45 907.48 145.42 908.76 145.38 910.03 145.34 911.31 145.31 912.59 145.27 913.87 145.24 915.15 145.20 916.42 145.17 917.70 145.13 918.98 145.10 920.26 145.06 921.54 145.03 922.82 144.99 924.09 144.96 925.37 144.93 926.65 144.89 927.93 144.86 929.21 144.83 930.48 144.80 931.76 144.76 933.04 144.73 934.32 144.70 935.60 144.67 936.88 144.64 938.15 144.61 939.43 144.58 940.71 144.55 941.99 144.52 943.27 144.49 944.55 144.46 945.82 144.43 947.10 144.40 948.38 144.37 949.66 144.34 950.94 144.31 952.21 144.28 953.49 144.25 954.77 144.22 956.05 144.20 957.33 144.17 958.61 144.14 959.88 144.11 961.16 144.09 962.44 144.06 963.72 144.03 965.00 144.00 966.27 143.98 967.55 143.95 968.83 143.93 970.11 143.90 971.39 143.87 972.67 143.85 973.94 143.82 975.22 143.80 976.50 143.77 976.50 143.77" stroke="#ff0000" stroke-width="5.75" fill="none" stroke-linejoin="round" stroke-linecap="square"/>
<path d="M378.79 5.37 378.87 6.64 378.94 7.90 379.02 9.16 379.09 10.41 379.17 11.65 379.24 12.90 379.32 14.13 379.39 15.36 379.47 16.59 379.54 17.81 379.62 19.02 379.69 20.23 379.77 21.44 379.84 22.64 379.92 23.83 379.99 25.02 380.07 26.21 380.14 27.38 380.22 28.56 380.29 29.73 380.37 30.89 380.44 32.05 380.52 33.21 380.59 34.36 380.67 35.50 380.74 36.64 380.82 37.78 380.89 38.91 380.97 40.03 381.04 41.15 381.12 42.27 381.19 43.38 381.27 44.49 381.34 45.59 381.42 46.69 381.49 47.78 381.57 48.87 381.64 49.95 381.72 51.03 381.79 52.10 381.87 53.17 381.94 54.24 382.02 55.30 382.09 56.35 382.17 57.40 382.24 58.45 382.32 59.49 382.39 60.53 382.47 61.56 382.54 62.59 382.62 63.62 382.69 64.64 382.77 65.65 382.84 66.67 382.92 67.67 382.99 68.68 383.07 69.67 383.14 70.67 383.22 71.66 383.29 72.65 383.37 73.63 383.44 74.60 383.52 75.58 383.59 76.55 383.67 77.51 383.74 78.47 383.82 79.43 383.89 80.38 383.97 81.33 384.04 82.28 384.12 83.22 384.19 84.15 384.27 85.09 384.34 86.01 384.42 86.94 384.49 87.86 384.57 88.78 384.64 89.69 384.72 90.60 384.79 91.50 384.87 92.40 384.94 93.30 385.02 94.20 385.09 95.08 385.17 95.97 385.24 96.85 385.32 97.73 385.39 98.60 385.47 99.48 385.54 100.34 385.62 101.21 385.69 102.06 385.77 102.92 385.84 103.77 385.92 104.62 385.99 105.47 386.07 106.31 386.14 107.14 386.22 107.98 386.29 108.81 386.37 109.64 386.44 110.46 386.52 111.28 386.59 112.09 386.67 112.91 386.74 113.72 386.82 114.52 386.89 115.32 386.97 116.12 387.12 117.71 387.27 119.28 387.42 120.84 387.57 122.39 387.72 123.92 387.87 125.44 388.02 126.95 388.17 128.44 388.32 129.92 388.47 131.39 388.62 132.84 388.77 134.29 388.92 135.72 389.07 137.13 389.22 138.54 389.37 139.93 389.52 141.31 389.67 142.68 389.82 144.04 389.97 145.38 390.12 146.71 390.27 148.04 390.42 149.35 390.57 150.64 390.72 151.93 390.87 153.21 391.02 154.47 391.17 155.73 391.32 156.97 391.47 158.20 391.62 159.42 391.77 160.63 391.92 161.83 392.07 163.02 392.22 164.20 392.37 165.36 392.52 166.52 392.67 167.67 392.82 168.81 392.97 169.93 393.12 171.05 393.27 172.16 393.42 173.25 393.57 174.34 393.72 175.42 393.87 176.49 394.02 177.55 394.17 178.60 394.32 179.63 394.47 180.67 394.62 181.69 394.77 182.70 394.92 183.70 395.07 184.70 395.22 185.68 395.37 186.66 395.52 187.62 395.67 188.58 395.82 189.53 395.97 190.47 396.12 191.41 396.27 192.33 396.42 193.25 396.57 194.15 396.72 195.05 396.87 195.94 397.02 196.83 397.17 197.70 397.32 198.57 397.47 199.43 397.62 200.28 397.77 201.12 397.92 201.96 398.07 202.78 398.22 203.60 398.37 204.42 398.52 205.22 398.67 206.02 398.82 206.81 399.05 207.98 399.27 209.13 399.50 210.27 399.72 211.39 399.95 212.50 400.17 213.59 400.40 214.67 400.62 215.73 400.85 216.78 401.07 217.81 401.30 218.82 401.53 219.82 401.75 220.81 401.98 221.78 402.20 222.74 402.43 223.69 402.65 224.62 402.88 225.54 403.10 226.44 403.33 227.33 403.55 228.21 403.78 229.08 404.00 229.93 404.23 230.77 404.45 231.60 404.68 232.41 404.90 233.22 405.13 234.01 405.35 234.79 405.65 235.81 405.95 236.81 406.25 237.79 406.55 238.75 406.85 239.69 407.15 240.61 407.45 241.51 407.75 242.39 408.05 243.26 408.35 244.10 408.65 244.93 408.95 245.74 409.25 246.53 409.55 247.31 409.85 248.07 410.15 248.81 410.53 249.72 410.90 250.60 411.28 251.46 411.65 252.29 412.03 253.10 412.40 253.88 412.78 254.65 413.15 255.39 413.53 256.11 413.98 256.94 414.43 257.75 414.88 258.52 415.33 259.27 415.78 259.99 416.23 260.68 416.68 261.35 417.21 262.09 417.73 262.80 418.26 263.47 418.78 264.12 419.31 264.73 419.91 265.39 420.51 266.01 421.11 266.59 421.71 267.13 422.38 267.70 423.06 268.23 423.73 268.72 424.41 269.16 425.16 269.61 425.91 270.01 426.66 270.37 427.41 270.69 428.24 270.99 429.06 271.24 429.89 271.44 430.71 271.61 431.54 271.73 432.36 271.81 433.19 271.85 434.01 271.86 434.84 271.83 435.66 271.77 436.49 271.67 437.31 271.55 438.14 271.40 438.96 271.22 439.79 271.01 440.62 270.78 441.44 270.53 442.27 270.25 443.09 269.95 443.84 269.66 444.59 269.35 445.34 269.03 446.09 268.69 446.84 268.34 447.59 267.97 448.34 267.60 449.09 267.21 449.84 266.80 450.59 266.39 451.34 265.97 452.09 265.53 452.84 265.09 453.60 264.64 454.35 264.18 455.10 263.71 455.77 263.28 456.45 262.84 457.12 262.40 457.80 261.95 458.47 261.50 459.15 261.04 459.82 260.58 460.50 260.12 461.17 259.65 461.85 259.17 462.52 258.70 463.20 258.22 463.87 257.73 464.55 257.25 465.22 256.76 465.90 256.26 467.78 254.88 469.06 253.93 470.33 252.98 471.61 252.02 472.89 251.05 474.17 250.08 475.45 249.11 476.73 248.14 478.00 247.17 479.28 246.20 480.56 245.23 481.84 244.25 483.12 243.29 484.39 242.32 485.67 241.35 486.95 240.39 488.23 239.44 489.51 238.48 490.79 237.53 492.06 236.59 493.34 235.65 494.62 234.72 495.90 233.79 497.18 232.86 498.45 231.95 499.73 231.04 501.01 230.13 502.29 229.23 503.57 228.34 504.85 227.46 506.12 226.58 507.40 225.71 508.68 224.85 509.96 223.99 511.24 223.14 512.52 222.30 513.79 221.46 515.07 220.64 516.35 219.82 517.63 219.01 518.91 218.20 520.18 217.41 521.46 216.62 522.74 215.84 524.02 215.06 525.30 214.30 526.58 213.54 527.85 212.79 529.13 212.05 530.41 211.31 531.69 210.59 532.97 209.87 534.24 209.15 535.52 208.45 536.80 207.75 538.08 207.06 539.36 206.38 540.64 205.70 541.91 205.03 543.19 204.37 544.47 203.72 545.75 203.07 547.03 202.43 548.30 201.80 549.58 201.17 550.86 200.56 552.14 199.94 553.42 199.34 554.70 198.74 555.97 198.15 557.25 197.56 558.53 196.98 559.81 196.41 561.09 195.84 562.36 195.29 563.64 194.73 564.92 194.18 566.20 193.64 567.48 193.11 568.76 192.58 570.03 192.06 571.31 191.54 572.59 191.03 573.87 190.52 575.15 190.02 576.42 189.53 577.70 189.04 578.98 188.56 580.26 188.08 581.54 187.61 582.82 187.14 584.09 186.68 585.37 186.23 586.65 185.77 587.93 185.33 589.21 184.89 590.48 184.45 591.76 184.02 593.04 183.59 594.32 183.17 595.60 182.76 596.88 182.34 598.15 181.94 599.43 181.53 600.71 181.14 601.99 180.74 603.27 180.35 604.55 179.97 605.82 179.59 607.10 179.21 608.38 178.84 609.66 178.47 610.94 178.11 612.21 177.75 613.49 177.39 614.77 177.04 616.05 176.69 617.33 176.35 618.61 176.01 619.88 175.67 621.16 175.34 622.44 175.01 623.72 174.69 625.00 174.36 626.27 174.05 627.55 173.73 628.83 173.42 630.11 173.11 631.39 172.81 632.67 172.51 633.94 172.21 635.22 171.91 636.50 171.62 637.78 171.33 639.06 171.05 640.33 170.77 641.61 170.49 642.89 170.21 644.17 169.94 645.45 169.67 646.73 169.40 648.00 169.14 649.28 168.88 650.56 168.62 651.84 168.36 653.12 168.11 654.39 167.86 655.67 167.61 656.95 167.36 658.23 167.12 659.51 166.88 660.79 166.64 662.06 166.41 663.34 166.18 664.62 165.95 665.90 165.72 667.18 165.49 668.45 165.27 669.73 165.05 671.01 164.83 672.29 164.62 673.57 164.40 674.85 164.19 676.12 163.98 677.40 163.78 678.68 163.57 679.96 163.37 681.24 163.17 682.52 162.97 683.79 162.77 685.07 162.58 686.35 162.38 687.63 162.19 688.91 162.00 690.18 161.82 691.46 161.63 692.74 161.45 694.02 161.27 695.30 161.09 696.58 160.91 697.85 160.74 699.13 160.56 700.41 160.39 701.69 160.22 702.97 160.05 704.24 159.88 705.52 159.72 706.80 159.55 708.08 159.39 709.36 159.23 710.64 159.07 711.91 158.91 713.19 158.76 714.47 158.60 715.75 158.45 717.03 158.30 718.30 158.15 719.58 158.00 720.86 157.85 722.14 157.71 723.42 157.56 724.70 157.42 725.97 157.28 727.25 157.14 728.53 157.00 729.81 156.86 731.09 156.73 732.36 156.59 733.64 156.46 734.92 156.33 736.20 156.20 737.48 156.07 738.76 155.94 740.03 155.81 741.31 155.68 742.59 155.56 743.87 155.44 745.15 155.31 746.42 155.19 747.70 155.07 748.98 154.95 750.26 154.84 751.54 154.72 752.82 154.60 754.09 154.49 755.37 154.37 756.65 154.26 757.93 154.15 759.21 154.04 760.48 153.93 761.76 153.82 763.04 153.71 764.32 153.61 765.60 153.50 766.88 153.40 768.15 153.29 769.43 153.19 770.71 153.09 771.99 152.99 773.27 152.89 774.55 152.79 775.82 152.69 777.10 152.59 778.38 152.50 779.66 152.40 780.94 152.31 782.21 152.21 783.49 152.12 784.77 152.03 786.05 151.94 787.33 151.85 788.61 151.76 789.88 151.67 791.16 151.58 792.44 151.49 793.72 151.41 795.00 151.32 796.27 151.23 797.55 151.15 798.83 151.07 800.11 150.98 801.39 150.90 802.67 150.82 803.94 150.74 805.22 150.66 806.50 150.58 807.78 150.50 809.06 150.42 810.33 150.35 811.61 150.27 812.89 150.19 814.17 150.12 815.45 150.04 816.73 149.97 818.00 149.90 819.28 149.82 820.56 149.75 821.84 149.68 823.12 149.61 824.39 149.54 825.67 149.47 826.95 149.40 828.23 149.33 829.51 149.26 830.79 149.19 832.06 149.13 833.34 149.06 834.62 148.99 835.90 148.93 837.18 148.86 838.45 148.80 839.73 148.74 841.01 148.67 842.29 148.61 843.57 148.55 844.85 148.49 846.12 148.43 847.40 148.37 848.68 148.31 849.96 148.25 851.24 148.19 852.52 148.13 853.79 148.07 855.07 148.01 856.35 147.95 857.63 147.90 858.91 147.84 860.18 147.79 861.46 147.73 862.74 147.67 864.02 147.62 865.30 147.57 866.58 147.51 867.85 147.46 869.13 147.41 870.41 147.35 871.69 147.30 872.97 147.25 874.24 147.20 875.52 147.15 876.80 147.10 878.08 147.05 879.36 147.00 880.64 146.95 881.91 146.90 883.19 146.85 884.47 146.80 885.75 146.76 887.03 146.71 888.30 146.66 889.58 146.61 890.86 146.57 892.14 146.52 893.42 146.48 894.70 146.43 895.97 146.39 897.25 146.34 898.53 146.30 899.81 146.25 901.09 146.21 902.36 146.17 903.64 146.12 904.92 146.08 906.20 146.04 907.48 146.00 908.76 145.96 910.03 145.92 911.31 145.87 912.59 145.83 913.87 145.79 915.15 145.75 916.42 145.71 917.70 145.67 918.98 145.64 920.26 145.60 921.54 145.56 922.82 145.52 924.09 145.48 925.37 145.44 926.65 145.41 927.93 145.37 929.21 145.33 930.48 145.30 931.76 145.26 933.04 145.22 934.32 145.19 935.60 145.15 936.88 145.12 938.15 145.08 939.43 145.05 940.71 145.01 941.99 144.98 943.27 144.94 944.55 144.91 945.82 144.88 947.10 144.84 948.38 144.81 949.66 144.78 950.94 144.74 952.21 144.71 953.49 144.68 954.77 144.65 956.05 144.62 957.33 144.59 958.61 144.55 959.88 144.52 961.16 144.49 962.44 144.46 963.72 144.43 965.00 144.40 966.27 144.37 967.55 144.34 968.83 144.31 970.11 144.28 971.39 144.25 972.67 144.22 973.94 144.20 975.22 144.17 976.50 144.14 976.50 144.14" stroke="#800080" stroke-width="5.75" fill="none" stroke-linejoin="round" stroke-linecap="square"/>
</g>
<path d="M730.9 211.6H839" stroke="#0000ff" stroke-width="4.8" stroke-dasharray="11.5 10.6" fill="none"/>
<path d="M729 272.6H839" stroke="#ff7f00" stroke-width="4.8" fill="none"/>
<path d="M729 333.5H839" stroke="#00aa00" stroke-width="4.8" fill="none"/>
<path d="M729 394.5H839" stroke="#ff0000" stroke-width="4.8" fill="none"/>
<path d="M729 455.4H839" stroke="#800080" stroke-width="4.8" fill="none"/>
<g style="opacity:0.999"><text transform="translate(203.60 516.05) scale(0.97 1)" text-anchor="end" font-size="37.2">350</text>
<text transform="translate(203.60 435.60) scale(0.97 1)" text-anchor="end" font-size="37.2">400</text>
<text transform="translate(203.60 355.15) scale(0.97 1)" text-anchor="end" font-size="37.2">450</text>
<text transform="translate(203.60 274.70) scale(0.97 1)" text-anchor="end" font-size="37.2">500</text>
<text transform="translate(203.60 194.25) scale(0.97 1)" text-anchor="end" font-size="37.2">550</text>
<text transform="translate(203.60 113.80) scale(0.97 1)" text-anchor="end" font-size="37.2">600</text>
<text transform="translate(203.60 33.35) scale(0.97 1)" text-anchor="end" font-size="37.2">650</text>
<text transform="translate(227.80 544.20) scale(0.97 1)" text-anchor="middle" font-size="37.2">0</text>
<text transform="translate(377.80 544.20) scale(0.97 1)" text-anchor="middle" font-size="37.2">1</text>
<text transform="translate(527.80 544.20) scale(0.97 1)" text-anchor="middle" font-size="37.2">2</text>
<text transform="translate(677.80 544.20) scale(0.97 1)" text-anchor="middle" font-size="37.2">3</text>
<text transform="translate(827.80 544.20) scale(0.97 1)" text-anchor="middle" font-size="37.2">4</text>
<text transform="translate(977.80 544.20) scale(0.97 1)" text-anchor="middle" font-size="37.2">5</text>
<text transform="translate(601.90 603.80) scale(1.0 1)" text-anchor="middle" font-size="36.6">r</text>
<text transform="translate(0.60 270.80) scale(0.97 1)" text-anchor="start" font-size="37.2">R</text>
<text transform="translate(26.60 276.40) scale(1.3 1)" text-anchor="start" font-size="21.5">μν</text>
<text transform="translate(61.60 270.80) scale(0.97 1)" text-anchor="start" font-size="37.2">R</text>
<text transform="translate(89.40 253.20) scale(1.28 1)" text-anchor="start" font-size="21.5">μν</text>
<text transform="translate(856.60 282.80) scale(0.9 1)" text-anchor="start" font-size="35.5">a</text>
<path d="M878.17 269.15h16.9L894.37 272.45h-16.9zM876.71 276.10h16.9L892.91 279.40h-16.9z" fill="#000"/>
<text transform="translate(896.00 282.80) scale(0.92 1)" text-anchor="start" font-size="35.5">1.5</text>
<text transform="translate(856.60 343.70) scale(0.9 1)" text-anchor="start" font-size="35.5">a</text>
<path d="M878.17 330.05h16.9L894.37 333.35h-16.9zM876.71 337.00h16.9L892.91 340.30h-16.9z" fill="#000"/>
<text transform="translate(896.00 343.70) scale(0.92 1)" text-anchor="start" font-size="35.5">1.8</text>
<text transform="translate(856.60 404.70) scale(0.9 1)" text-anchor="start" font-size="35.5">a</text>
<path d="M878.17 391.05h16.9L894.37 394.35h-16.9zM876.71 398.00h16.9L892.91 401.30h-16.9z" fill="#000"/>
<text transform="translate(896.00 404.70) scale(0.92 1)" text-anchor="start" font-size="35.5">2.0</text>
<text transform="translate(856.60 465.60) scale(0.9 1)" text-anchor="start" font-size="35.5">a</text>
<path d="M878.17 451.95h16.9L894.37 455.25h-16.9zM876.71 458.90h16.9L892.91 462.20h-16.9z" fill="#000"/>
<text transform="translate(896.00 465.60) scale(0.92 1)" text-anchor="start" font-size="35.5">2.2</text>
<text transform="translate(858.50 222.00) scale(1.25 1) skewX(-8)" text-anchor="start" font-size="31" style="font-weight:normal" stroke="#000" stroke-width="0.6">ρ</text>
<path d="M886.57 208.35h16.9L902.77 211.65h-16.9zM885.11 215.30h16.9L901.31 218.60h-16.9z" fill="#000"/>
<text transform="translate(903.40 222.00) scale(0.96 1)" text-anchor="start" font-size="35.5">0</text></g>
</svg>
</body></html>
